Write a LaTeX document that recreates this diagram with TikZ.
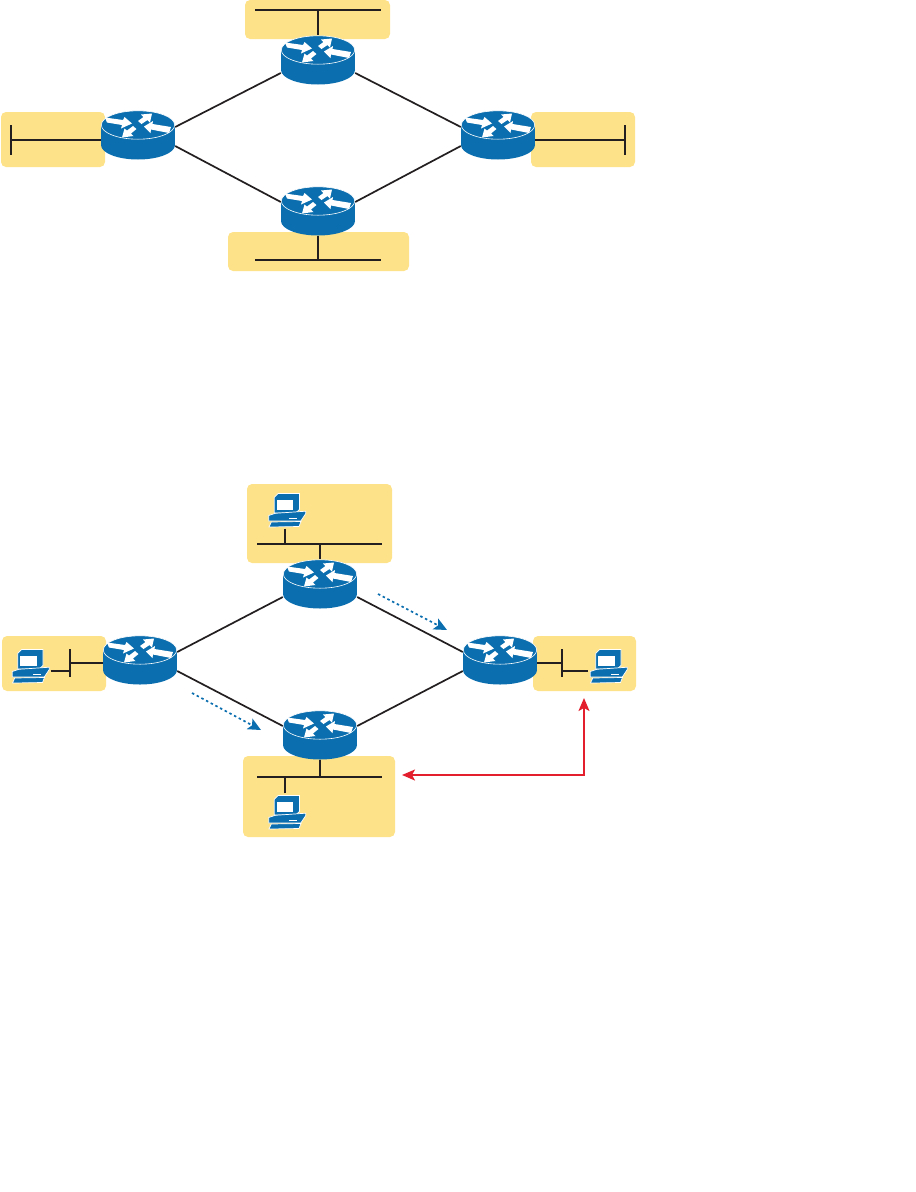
\documentclass[tikz,border=0pt]{standalone}
\usepackage{tikz}
\usetikzlibrary{arrows.meta, positioning}
\definecolor{panelyellow}{HTML}{FDE28A}
\definecolor{routerblue}{HTML}{0B6EAE}
\definecolor{wirered}{HTML}{E31E2D}
\definecolor{wireblack}{HTML}{231F20}

\begin{document}
\begin{tikzpicture}[x=1pt, y=-1pt,
    panel/.style={rectangle, fill=panelyellow, rounded corners=5pt, inner sep=0pt},
    router/.style={rectangle, inner sep=0pt, minimum width=74pt, minimum height=49pt,
        path picture={
            \begin{scope}[shift={(path picture bounding box.center)}]
                \fill[routerblue] (0,10) ellipse [x radius=37pt, y radius=14.5pt];
                \fill[routerblue] (-37,-10) rectangle (37,10);
                \draw[white, line width=0.6pt, fill=routerblue] (0,-10) ellipse [x radius=36.7pt, y radius=14.2pt];
                \fill[white] (-33,-17.5) -- (-15,-15) -- (-13.5,-18) -- (-6,-11.5) -- (-17,-6.5) -- (-16,-10) -- (-31,-12.5) -- cycle;
                \fill[white] (14,-21.5) -- (3,-20.5) -- (5.5,-18) -- (0,-14) -- (3.5,-11) -- (9.5,-15) -- (12,-12.5) -- cycle;
                \fill[white] (6,-8.5) -- (15,-14) -- (14.5,-11) -- (33,-8) -- (31,-2) -- (13,-5.5) -- (12.5,-2) -- cycle;
                \fill[white] (-16,2.5) -- (-13.5,-6.5) -- (-11,-4.5) -- (-5,-9) -- (-1.5,-6) -- (-7,-1.5) -- (-4.5,1) -- cycle;
            \end{scope}}},
    pcbox/.style={rectangle, inner sep=0pt, minimum width=40pt, minimum height=37pt,
        path picture={
            \begin{scope}[shift={(path picture bounding box.center)}]
                \filldraw[routerblue, draw=white, line width=0.7pt] (-12.8,-12.7) -- (-9,-16.5) -- (12.5,-16.5) -- (12.5,-0.7) -- (8.8,3) -- (-12.8,3) -- cycle;
                \fill[white] (-10.3,-10.5) rectangle (6.2,0.3);
                \filldraw[routerblue, draw=white, line width=0.7pt] (-18.3,5.5) -- (-11.7,3.3) -- (18.8,1.2) -- (18.8,3.5) -- (13.8,11) -- (-18.3,11) -- cycle;
                \draw[white, line width=0.7pt] (2.3,8) -- (10,8);
                \filldraw[routerblue, draw=white, line width=0.7pt] (-15.7,12) -- (14,11.5) -- (12,16.5) -- (-18,17) -- cycle;
            \end{scope}}},
    wire/.style={wireblack, line width=1.7pt},
    flowarrow/.style={routerblue, line width=1.7pt, dash pattern=on 2.5pt off 2.8pt,
        -{Stealth[length=13pt, width=12pt, inset=3pt]}},
    pathline/.style={wirered, line width=1.7pt,
        {Stealth[length=13pt, width=11pt, inset=3pt]}-{Stealth[length=13pt, width=11pt, inset=3pt]}}]

    \useasboundingbox (0,0) rectangle (916,1192);

    % upper network
    \node[panel, minimum width=145pt, minimum height=39pt] (ptop) at (317.5,19.5) {};
    \node[panel, minimum width=104pt, minimum height=55pt] (pleft) at (53,139.5) {};
    \node[panel, minimum width=104pt, minimum height=55pt] (pright) at (583,139.5) {};
    \node[panel, minimum width=181pt, minimum height=39pt] (pbot) at (318.5,251.5) {};

    \node[router] (rtop) at (318,60) {};
    \node[router] (rleft) at (138,135) {};
    \node[router] (rright) at (498,135) {};
    \node[router] (rbot) at (318,211) {};

    \draw[wire] ([yshift=8pt]rleft.east) -- ([yshift=-13pt]rtop.west);
    \draw[wire] ([yshift=-13pt]rtop.east) -- ([yshift=8pt]rright.west);
    \draw[wire] ([yshift=-11pt]rleft.east) -- ([yshift=9pt]rbot.west);
    \draw[wire] ([yshift=9pt]rbot.east) -- ([yshift=-11pt]rright.west);

    \coordinate (lana) at (255,10);
    \coordinate (lanb) at (381,10);
    \coordinate (lanc) at (255,260);
    \coordinate (land) at (381,260);
    \coordinate (lane) at (11,125);
    \coordinate (lanf) at (11,155);
    \coordinate (lang) at (625,125);
    \coordinate (lanh) at (625,155);
    \draw[wire] (lana) -- (lanb);
    \draw[wire] (rtop.north |- lana) -- (rtop.north);
    \draw[wire] (lanc) -- (land);
    \draw[wire] (rbot.south |- lanc) -- (rbot.south);
    \draw[wire] (lane) -- (lanf);
    \draw[wire] (lane |- 0,140) -- (rleft.west |- 0,140);
    \draw[wire] (lang) -- (lanh);
    \draw[wire] (lang |- 0,140) -- (rright.east |- 0,140);

    % lower network
    \node[panel, minimum width=145pt, minimum height=79pt] (qtop) at (319.5,523.5) {};
    \node[panel, minimum width=104pt, minimum height=55pt] (qleft) at (54,663.5) {};
    \node[panel, minimum width=103pt, minimum height=55pt] (qright) at (584.5,663.5) {};
    \node[panel, minimum width=152pt, minimum height=81pt] (qbot) at (319,796.5) {};

    \node[router] (stop) at (320,584) {};
    \node[router] (sleft) at (140,660) {};
    \node[router] (sright) at (500,660) {};
    \node[router] (sbot) at (320,735) {};

    \draw[wire] ([yshift=8pt]sleft.east) -- ([yshift=-13pt]stop.west);
    \draw[wire] ([yshift=-13pt]stop.east) -- ([yshift=8pt]sright.west);
    \draw[wire] ([yshift=-11pt]sleft.east) -- ([yshift=9pt]sbot.west);
    \draw[wire] ([yshift=9pt]sbot.east) -- ([yshift=-11pt]sright.west);

    \node[pcbox] (pctop) at (287,510) {};
    \node[pcbox] (pcleft) at (30.5,666) {};
    \node[pcbox] (pcright) at (608.5,666) {};
    \node[pcbox] (pcbot) at (287,812) {};

    \coordinate (busa) at (257,544);
    \coordinate (busb) at (382,544);
    \coordinate (busc) at (257,777);
    \coordinate (busd) at (382,777);
    \coordinate (buse) at (70,649);
    \coordinate (busf) at (70,677);
    \coordinate (busg) at (562,649);
    \coordinate (bush) at (562,677);
    \draw[wire] (busa) -- (busb);
    \draw[wire] (stop.north |- busa) -- (stop.north);
    \draw[wire] ([xshift=-2pt]pctop.south) -- ([xshift=-2pt]pctop.south |- busa);
    \draw[wire] (busc) -- (busd);
    \draw[wire] (sbot.south) -- (sbot.south |- busc);
    \draw[wire] ([xshift=-2pt]pcbot.north) -- ([xshift=-2pt]pcbot.north |- busc);
    \draw[wire] (buse) -- (busf);
    \draw[wire] (buse |- 0,663) -- (sleft.west |- 0,663);
    \draw[wire] (pcleft.east |- 0,671) -- (buse |- 0,671);
    \draw[wire] (busg) -- (bush);
    \draw[wire] (sright.east |- 0,663) -- (busg |- 0,663);
    \draw[wire] (busg |- 0,671) -- (pcright.west |- 0,671);

    \coordinate (flowa) at (378,594);
    \coordinate (flowb) at (447,630);
    \coordinate (flowc) at (192,693);
    \coordinate (flowd) at (261,730);
    \draw[flowarrow] (flowa) -- (flowb);
    \draw[flowarrow] (flowc) -- (flowd);

    \coordinate (pathend) at (402,775);
    \coordinate (pathstart) at (584,698);
    \draw[pathline] (pathend) -| (pathstart);
\end{tikzpicture}
\end{document}
